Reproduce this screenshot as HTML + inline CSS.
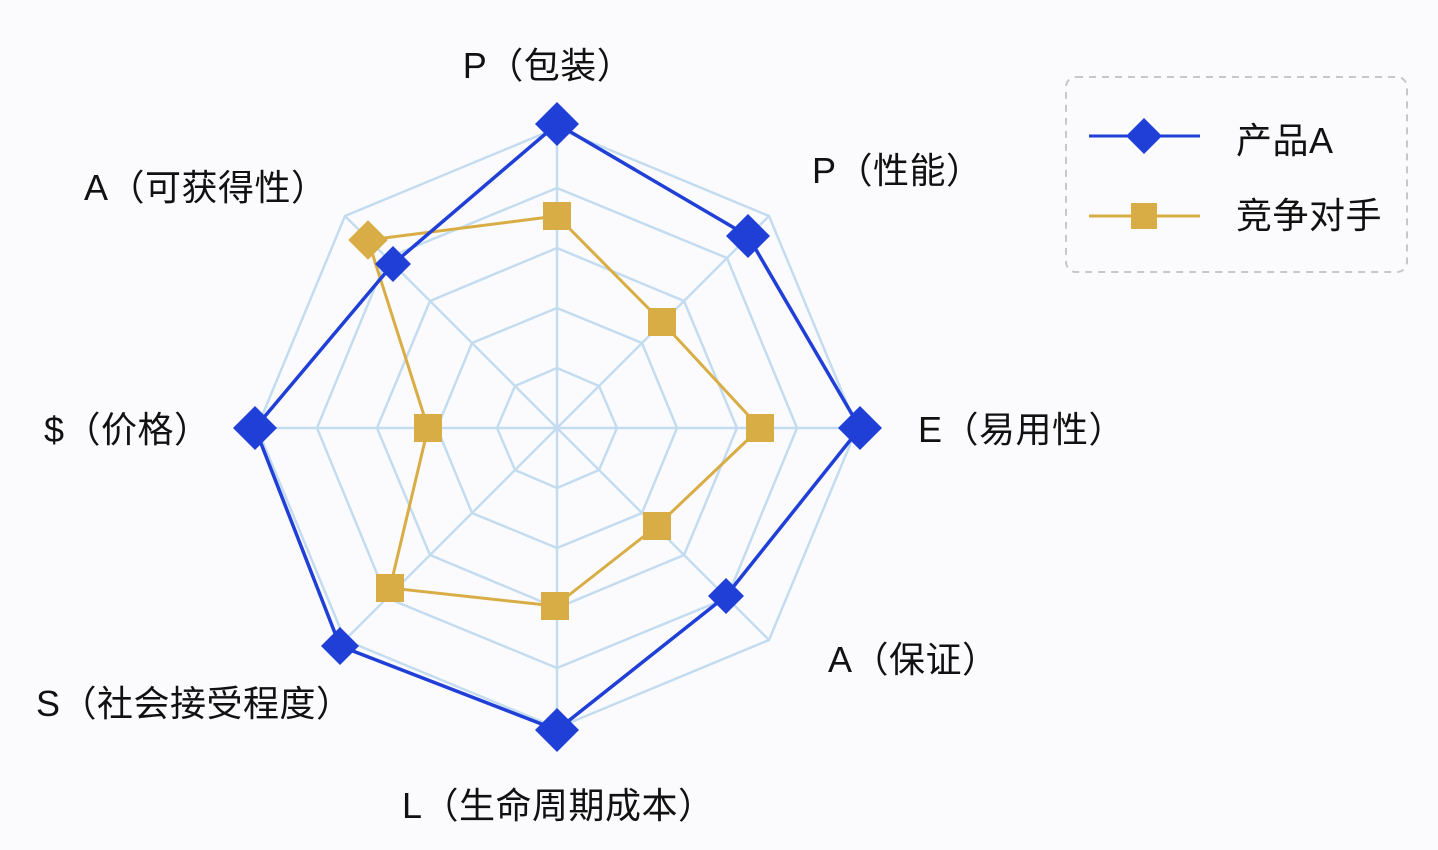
<!DOCTYPE html>
<html><head><meta charset="utf-8"><style>
html,body{margin:0;padding:0;background:#fbfbfd;}
svg{display:block}
text{font-family:"Liberation Sans","Noto Sans CJK SC",sans-serif;fill:#111;font-size:36px;letter-spacing:0.5px}
</style></head><body>
<svg width="1438" height="850" viewBox="0 0 1438 850">
<rect width="1438" height="850" fill="#fbfbfd"/>
<g stroke="#c4dcf0" stroke-width="2.5" fill="none">
<polygon points="557,368 599,386 617,428 599,470 557,488 515,470 497,428 515,386"/>
<polygon points="557,308 642,343 677,428 642,513 557,548 472,513 437,428 472,343"/>
<polygon points="557,248 684,301 737,428 684,555 557,608 430,555 377,428 430,301"/>
<polygon points="557,188 727,258 797,428 727,598 557,668 387,598 317,428 387,258"/>
<polygon points="557,128 769,216 857,428 769,640 557,728 345,640 257,428 345,216"/>
<line x1="557" y1="428" x2="557" y2="128"/><line x1="557" y1="428" x2="769" y2="216"/>
<line x1="557" y1="428" x2="857" y2="428"/><line x1="557" y1="428" x2="769" y2="640"/>
<line x1="557" y1="428" x2="557" y2="728"/><line x1="557" y1="428" x2="345" y2="640"/>
<line x1="557" y1="428" x2="257" y2="428"/><line x1="557" y1="428" x2="345" y2="216"/>
</g>
<polygon points="557,216 662,322 760,428 657,526 555,606 390,588 428,428 368,240" fill="none" stroke="#d9ad45" stroke-width="3"/>
<g fill="#d9ad45">
<rect x="543" y="202" width="28" height="28"/><rect x="648" y="308" width="28" height="28"/>
<rect x="746" y="414" width="28" height="28"/><rect x="643" y="512" width="28" height="28"/>
<rect x="541" y="592" width="28" height="28"/><rect x="376" y="574" width="28" height="28"/>
<rect x="414" y="414" width="28" height="28"/>
<rect x="354" y="226" width="28" height="28" transform="rotate(45 368 240)"/>
</g>
<polygon points="557,124 748,236 860,428 726,596 557,730 340,646 255,428 393,264" fill="none" stroke="#1f3fd6" stroke-width="3.5"/>
<g fill="#1f3fd6">
<polygon points="557,102 579,124 557,146 535,124"/>
<polygon points="748,214 770,236 748,258 726,236"/>
<polygon points="860,406 882,428 860,450 838,428"/>
<polygon points="726,578 744,596 726,614 708,596"/>
<polygon points="557,708 579,730 557,752 535,730"/>
<polygon points="340,627 359,646 340,665 321,646"/>
<polygon points="255,406 277,428 255,450 233,428"/>
<polygon points="393,246 411,264 393,282 375,264"/>
</g>
<text x="548" y="78" text-anchor="middle">P（包装）</text>
<text x="812" y="183">P（性能）</text>
<text x="918" y="442">E（易用性）</text>
<text x="828" y="672">A（保证）</text>
<text x="402" y="818">L（生命周期成本）</text>
<text x="36" y="716">S（社会接受程度）</text>
<text x="44" y="442">$（价格）</text>
<text x="84" y="200">A（可获得性）</text>
<rect x="1066" y="77" width="341" height="195" rx="10" fill="none" stroke="#c8c8cc" stroke-width="2" stroke-dasharray="7,6"/>
<line x1="1089" y1="136" x2="1200" y2="136" stroke="#1f3fd6" stroke-width="3"/>
<polygon points="1144,118 1162,136 1144,154 1126,136" fill="#1f3fd6"/>
<line x1="1089" y1="216" x2="1200" y2="216" stroke="#d9ad45" stroke-width="3"/>
<rect x="1131" y="203" width="26" height="26" fill="#d9ad45"/>
<text x="1236" y="153" style="font-size:36px">产品A</text>
<text x="1236" y="228" style="font-size:36px">竞争对手</text>
</svg>
</body></html>
